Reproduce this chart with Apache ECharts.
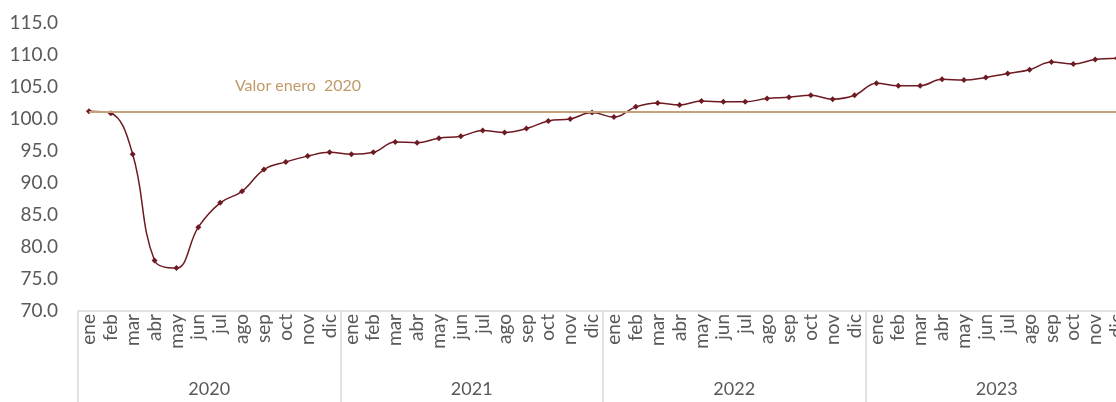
<!DOCTYPE html>
<html>
<head>
<meta charset="utf-8">
<script src="https://cdn.jsdelivr.net/npm/echarts@6/dist/echarts.min.js"></script>
<style>
  html, body { margin: 0; padding: 0; background: #fff; overflow: hidden; }
  #chart { width: 1128px; height: 402px; }
</style>
</head>
<body>
<div id="chart"></div>
<script>
// meses y años del eje
const months = ['ene', 'feb', 'mar', 'abr', 'may', 'jun', 'jul', 'ago', 'sep', 'oct', 'nov', 'dic']
const years = ['2020', '2021', '2022', '2023']
// índice mensual (ene 2020 - dic 2023)
const values = [
  101.2, 100.9, 94.5, 77.9, 76.7, 83.1, 86.9, 88.7, 92.1, 93.3, 94.2, 94.8,
  94.5, 94.8, 96.4, 96.3, 97.0, 97.3, 98.2, 97.9, 98.5, 99.7, 100.0, 101.0,
  100.3, 101.9, 102.5, 102.2, 102.8, 102.7, 102.7, 103.2, 103.4, 103.7, 103.1, 103.7,
  105.6, 105.2, 105.2, 106.2, 106.1, 106.5, 107.1, 107.7, 108.9, 108.6, 109.3, 109.5
]
const refValue = 101.2
const refLabel = 'Valor enero  2020'

const monthLabels = []
years.forEach(() => months.forEach((m) => monthLabels.push(m)))

// el gráfico es algo más ancho que la ventana: dic 2023 queda cortado
const chart = echarts.init(document.getElementById('chart'))
const font = 'Lato, "Open Sans", sans-serif'

const option = {
  animation: false,
  grid: { left: 78, right: 0, top: 23, bottom: 91 },
  xAxis: [
    {
      type: 'category',
      data: monthLabels,
      position: 'bottom',
      axisLine: { show: true, lineStyle: { color: '#d9d9d9', width: 1.5 } },
      axisTick: { show: false },
      axisLabel: {
        interval: 0,
        rotate: 90,
        margin: 3,
        color: '#595959',
        fontSize: 19,
        fontFamily: font
      },
      splitLine: { show: false }
    },
    {
      type: 'category',
      data: years,
      position: 'bottom',
      axisLine: { show: false },
      axisTick: { show: true, length: 92, lineStyle: { color: '#d9d9d9', width: 1.5 } },
      axisLabel: {
        interval: 0,
        margin: 69,
        color: '#595959',
        fontSize: 18,
        fontFamily: font
      },
      splitLine: { show: false }
    }
  ],
  yAxis: {
    type: 'value',
    min: 70,
    max: 115,
    interval: 5,
    axisLine: { show: false },
    axisTick: { show: false },
    splitLine: { show: false },
    axisLabel: {
      margin: 20,
      color: '#595959',
      fontSize: 19,
      fontFamily: font,
      formatter: (v) => v.toFixed(1)
    }
  },
  series: [
    {
      type: 'line',
      data: values,
      smooth: 0.4,
      symbol: 'diamond',
      symbolSize: 6,
      itemStyle: { color: '#6e1a22' },
      lineStyle: { color: '#6e1a22', width: 1.5 },
      z: 3,
      markLine: {
        silent: true,
        symbol: ['none', 'none'],
        lineStyle: { color: '#c4a27a', width: 2, type: 'solid' },
        label: {
          show: true,
          position: 'insideStartTop',
          formatter: refLabel,
          color: '#c09a68',
          fontSize: 16,
          fontFamily: font,
          padding: [0, 0, 12, 141]
        },
        data: [[{ coord: [0, refValue] }, { coord: [monthLabels.length - 1, refValue] }]]
      }
    }
  ]
}

chart.setOption(option)
</script>
</body>
</html>
